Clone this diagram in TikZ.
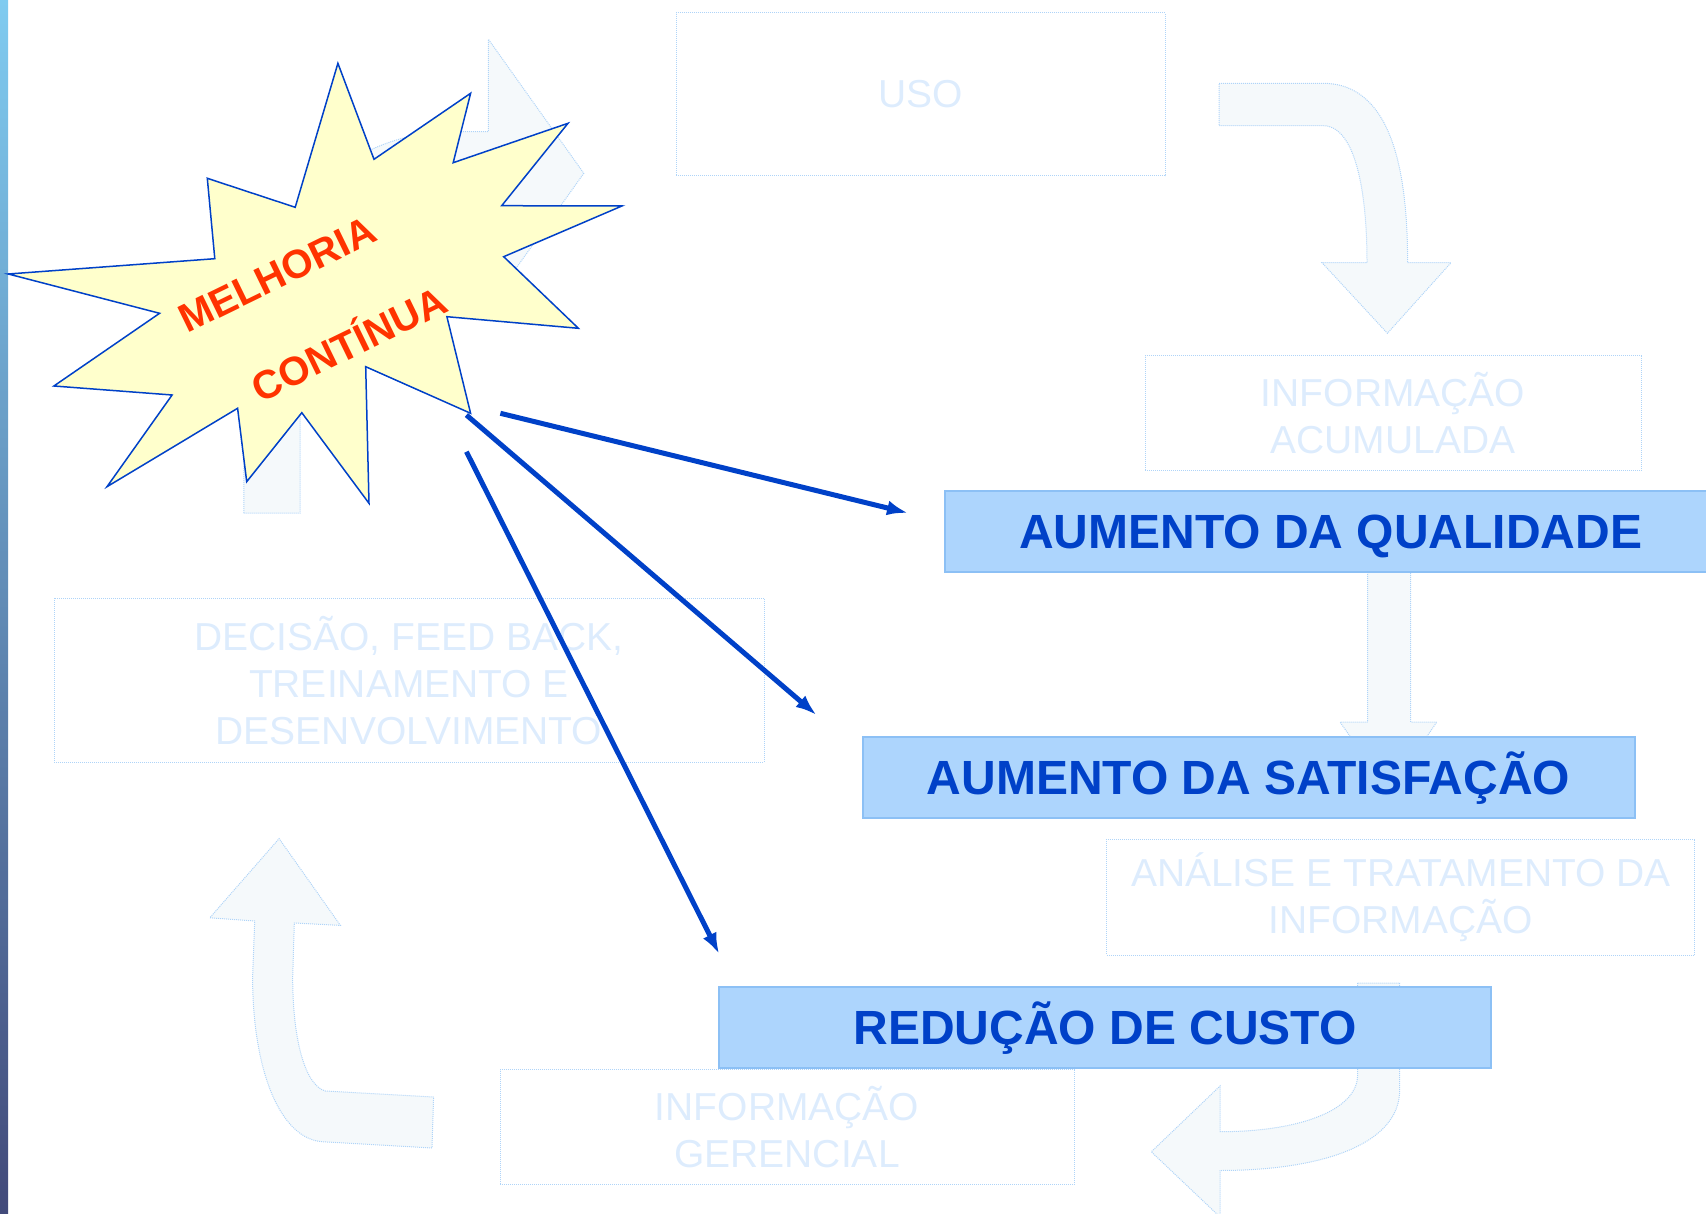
\documentclass[tikz,border=0pt]{standalone}
\usepackage{fontspec}
\setmainfont{Liberation Sans}
\usetikzlibrary{arrows.meta}

\definecolor{ghostline}{RGB}{175,212,248}
\definecolor{ghostfill}{RGB}{245,249,251}
\definecolor{ghosttext}{RGB}{221,236,253}
\definecolor{resultfill}{RGB}{173,213,253}
\definecolor{resultline}{RGB}{140,192,245}
\definecolor{resultblue}{RGB}{0,65,200}
\definecolor{burstfill}{RGB}{255,255,204}
\definecolor{burstred}{RGB}{255,51,0}

\newcommand{\ghostfont}{\fontsize{39}{47}\selectfont}
\newcommand{\resultfont}{\fontsize{48}{56}\selectfont\bfseries}
\newcommand{\burstfont}{\fontsize{40}{48}\selectfont\bfseries}

\begin{document}
\begin{tikzpicture}[x=1pt, y=-1pt,
    ghost/.style={draw=ghostline, densely dotted, line width=1pt, text=ghosttext,
      font=\ghostfont, align=center, inner sep=0pt},
    ghostarrow/.style={draw=ghostline, densely dotted, line width=1pt, fill=ghostfill},
    result/.style={draw=resultline, line width=2pt, fill=resultfill, text=resultblue,
      font=\resultfont, minimum width=772pt, minimum height=81pt,
      text height=34.4pt, text depth=0pt, inner sep=0pt},
    burstlabel/.style={text=burstred, font=\burstfont, rotate=26,
      text height=28.6pt, text depth=0pt, inner sep=0pt},
    impact/.style={->, line width=5pt, draw=resultblue},
    >={Latex[length=21pt, width=15pt]}]
    \useasboundingbox (0,0) rectangle (1706,1214);
    \shade[top color={rgb,255:red,127;green,203;blue,240}, middle color={rgb,255:red,96;green,130;blue,176},
      bottom color={rgb,255:red,66;green,74;blue,122}] (0,0) rectangle (8,1214);

    % faded cycle in the background
    \draw[ghostarrow] (1219,83.3) -- (1323,83.3) .. controls (1395,83.3) and (1407.6,180) .. (1407.6,262.7)
      -- (1451,262.7) -- (1387.4,333.3) -- (1322,262.7) -- (1367,262.7)
      .. controls (1367,190) and (1355,125.7) .. (1323,125.7) -- (1219,125.7) -- cycle;
    \draw[ghostarrow] (1367.5,500) -- (1410.6,500) -- (1410.6,722) -- (1436.8,722) -- (1389,792)
      -- (1340,722) -- (1367.5,722) -- cycle;
    \draw[ghostarrow] (1357.6,983) -- (1399.7,983) -- (1399.7,1090)
      .. controls (1399.7,1145) and (1320,1170.5) .. (1220,1170.5) -- (1220,1217) -- (1151.3,1151.8)
      -- (1220,1086) -- (1220,1131.7) .. controls (1300,1131.7) and (1357.6,1110) .. (1357.6,1075) -- cycle;
    \draw[ghostarrow] (433.6,1097) -- (325.2,1091) .. controls (305,1085) and (292.7,1040) .. (292.7,977)
      -- (294.3,923) -- (340.4,925.4) -- (279.1,838.6) -- (209.8,917.8) -- (254.7,921) -- (252.6,977)
      .. controls (252.6,1070) and (280,1140) .. (323.6,1141.8) -- (432,1148) -- cycle;
    \draw[ghostarrow] (243.8,513) -- (243.8,330) .. controls (243.8,240) and (330,140) .. (440,131.7)
      -- (488.4,131.7) -- (488.4,39.3) -- (583.8,173.3) -- (488.4,307) -- (488.4,214.9) -- (420,214.9)
      .. controls (350,214.9) and (300.2,270) .. (300.2,330) -- (300.2,513) -- cycle;

    \node[ghost, minimum width=489pt, minimum height=163pt] (uso) at (920.5,94.5) {USO};
    \node[ghost, minimum width=496pt, minimum height=115pt] (acumulada) at (1393,413.4) {INFORMAÇÃO\\ACUMULADA};
    \node[ghost, minimum width=588pt, minimum height=116pt] (analise) at (1400.8,897.4) {ANÁLISE E TRATAMENTO DA\\INFORMAÇÃO};
    \node[ghost, minimum width=574pt, minimum height=115pt] (gerencial) at (787,1127) {INFORMAÇÃO\\GERENCIAL};
    \node[ghost, minimum width=710pt, minimum height=164pt] (decisao) at (409,680.4) {DECISÃO, FEED BACK,\\TREINAMENTO E\\DESENVOLVIMENTO};

    % results
    \node[result] (qualidade) at (1330.7,531.2) {AUMENTO DA QUALIDADE};
    \node[result] (satisfacao) at (1248.5,777.7) {AUMENTO DA SATISFAÇÃO};
    \node[result] (custo) at (1105.2,1027.2) {REDUÇÃO DE CUSTO};

    % the burst
    \draw[draw=resultblue, fill=burstfill, line width=1.5pt] (337.9,63.3) -- (374,159.3) -- (470.6,93.3)
      -- (453.2,162.7) -- (568,123.3) -- (501.7,205.7) -- (621.9,206) -- (503.7,256.7) -- (578.4,328.3)
      -- (446.9,316.7) -- (470.6,413.3) -- (365.7,366.7) -- (369,503.3) -- (301.8,412.7) -- (246.7,481.7)
      -- (237.6,408.3) -- (107,486.7) -- (172.1,395) -- (53.9,386) -- (159.6,313.3) -- (8.3,274)
      -- (214.8,258.7) -- (207.3,178.3) -- (295.2,207.3) -- cycle;
    \node[burstlabel] (melhoria) at (277,274) {MELHORIA};
    \node[burstlabel] (continua) at (349,344) {CONTÍNUA};

    \coordinate (fromq) at (500.4,413.3);
    \coordinate (froms) at (466.4,415);
    \coordinate (fromc) at (466.4,451.7);
    \coordinate (toq) at (908,513);
    \coordinate (tos) at (816.5,715);
    \coordinate (toc) at (719.2,954);
    \draw[impact] (fromq) -- (toq);
    \draw[impact] (froms) -- (tos);
    \draw[impact] (fromc) -- (toc);
\end{tikzpicture}
\end{document}
